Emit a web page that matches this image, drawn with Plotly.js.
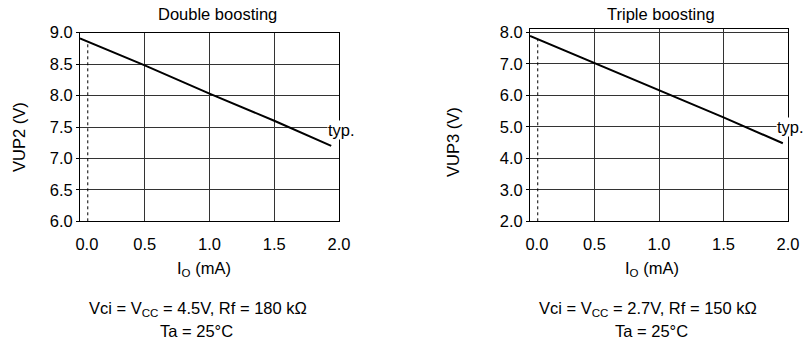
<!DOCTYPE html>
<html>
<head>
<meta charset="utf-8">
<script src="https://cdn.plot.ly/plotly-3.0.1.min.js"></script>
<style>html,body{margin:0;padding:0;background:#fff}#chart{width:807px;height:347px}</style>
</head>
<body>
<div id="chart"></div>
<script>
// ---- data ----
const currentDouble = [0, 0.5, 1.0, 1.5, 1.94];
const vup2 = [8.91, 8.48, 8.03, 7.6, 7.2];
const currentTriple = [0, 0.5, 1.0, 1.5, 1.96];
const vup3 = [7.89, 7.03, 6.17, 5.3, 4.48];
const dashXDouble = [0.06, 0.06];
const dashYDouble = [6.0, 8.86];
const dashXTriple = [0.06, 0.06];
const dashYTriple = [2.0, 7.79];
const xTickVals = [0, 0.5, 1.0, 1.5, 2.0];
const xTickText = ['\u00a0\u00a0\u00a00.0', '0.5', '1.0', '1.5', '2.0'];
const yTickVals2 = [6.0, 6.5, 7.0, 7.5, 8.0, 8.5, 9.0];
const yTickText2 = ['6.0', '6.5', '7.0', '7.5', '8.0', '8.5', '9.0'];
const yTickVals3 = [2.0, 3.0, 4.0, 5.0, 6.0, 7.0, 8.0];
const yTickText3 = ['2.0', '3.0', '4.0', '5.0', '6.0', '7.0', '8.0'];

const W = 807, H = 347;
const FONT = 'Liberation Sans, Arial, sans-serif';
const FS = 16.5;
const px = v => v / W;
const py = v => 1 - v / H;

const traces = [
  {x: dashXDouble, y: dashYDouble, xaxis: 'x', yaxis: 'y', mode: 'lines',
   line: {color: '#000', width: 1, dash: '3px,3px'}, hoverinfo: 'skip'},
  {x: currentDouble, y: vup2, xaxis: 'x', yaxis: 'y', mode: 'lines',
   line: {color: '#000', width: 2}},
  {x: dashXTriple, y: dashYTriple, xaxis: 'x2', yaxis: 'y2', mode: 'lines',
   line: {color: '#000', width: 1, dash: '3px,3px'}, hoverinfo: 'skip'},
  {x: currentTriple, y: vup3, xaxis: 'x2', yaxis: 'y2', mode: 'lines',
   line: {color: '#000', width: 2}}
];

const axBase = {
  showline: true, mirror: true, linecolor: '#000', linewidth: 1,
  showgrid: true, gridcolor: '#333', gridwidth: 1, zeroline: false,
  tickfont: {family: FONT, size: FS, color: '#000'}, tickmode: 'array'
};

function txt(text, x, y, extra) {
  return Object.assign({text: text, x: px(x), y: py(y), xref: 'paper', yref: 'paper',
    xanchor: 'center', yanchor: 'middle', showarrow: false,
    font: {family: FONT, size: FS, color: '#000'}}, extra || {});
}

const layout = {
  width: W, height: H,
  margin: {l: 0, r: 0, t: 0, b: 0},
  paper_bgcolor: '#fff', plot_bgcolor: '#fff',
  showlegend: false,
  xaxis: Object.assign({}, axBase, {domain: [px(80), px(339)], range: [0, 2.0], anchor: 'y',
    tickvals: xTickVals, ticktext: xTickText, ticks: '', ticklabelstandoff: 8}),
  yaxis: Object.assign({}, axBase, {domain: [py(221.3), py(32.7)], range: [6.0, 9.0], anchor: 'x',
    tickvals: yTickVals2, ticktext: yTickText2, ticks: 'outside', ticklen: 3, tickcolor: '#000'}),
  xaxis2: Object.assign({}, axBase, {domain: [px(530), px(788)], range: [0, 2.0], anchor: 'y2',
    tickvals: xTickVals, ticktext: xTickText, ticks: '', ticklabelstandoff: 8}),
  yaxis2: Object.assign({}, axBase, {domain: [py(221.3), py(28.7)], range: [2.0, 8.12], anchor: 'x2',
    tickvals: yTickVals3, ticktext: yTickText3, ticks: 'outside', ticklen: 3, tickcolor: '#000'}),
  annotations: [
    txt('Double boosting', 217, 14),
    txt('Triple boosting', 661, 14),
    txt('VUP2 (V)', 19, 137, {textangle: -90}),
    txt('VUP3 (V)', 453, 142, {textangle: -90}),
    {text: 'typ.', x: 1.91, y: 7.45, xref: 'x', yref: 'y', xanchor: 'left', yanchor: 'middle', showarrow: false, bgcolor: '#fff',
     borderpad: 0, font: {family: FONT, size: FS, color: '#000'}},
    {text: 'typ.', x: 1.91, y: 4.99, xref: 'x2', yref: 'y2', xanchor: 'left', yanchor: 'middle', showarrow: false, bgcolor: '#fff',
     borderpad: 0, font: {family: FONT, size: FS, color: '#000'}},
    txt('I<sub>O</sub> (mA)', 204, 269),
    txt('I<sub>O</sub> (mA)', 652, 269),
    txt('Vci = V<sub>CC</sub> = 4.5V, Rf = 180 kΩ', 198, 309),
    txt('Ta = 25°C', 196, 331),
    txt('Vci = V<sub>CC</sub> = 2.7V, Rf = 150 kΩ', 648, 309),
    txt('Ta = 25°C', 651, 331)
  ]
};

Plotly.newPlot('chart', traces, layout, {staticPlot: true, displayModeBar: false});
</script>
</body>
</html>
